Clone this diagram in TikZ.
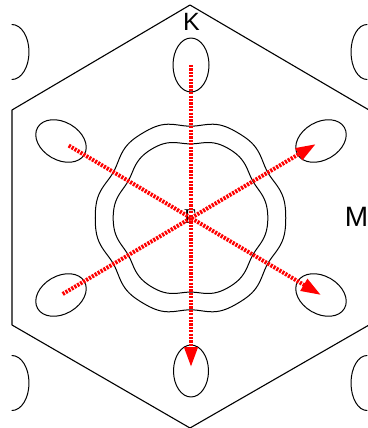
\documentclass[tikz,border=0pt]{standalone}
\usepackage{fontspec}
\setmainfont{Liberation Sans}
\newfontfamily\serifG{Liberation Serif}
\usetikzlibrary{arrows.meta}
\tikzset{declare function={
  fsr(\t,\R,\a,\b)=\R+\a*cos(6*\t)+\b*cos(12*\t);
}}
\begin{document}
\begin{tikzpicture}[x=1pt,y=-1pt,line join=round,line cap=round,
  bz/.style={black,line width=1.1pt},
  fs/.style={black,line width=1pt},
  kpath/.style={red,line width=4pt,line cap=butt,dash pattern=on 2.2pt off 1.2pt,
    -{Triangle[length=20pt,width=13pt]}},
  lbl/.style={inner sep=0pt}]
\useasboundingbox (0,0) rectangle (367,428);
% Brillouin zone
\coordinate (vT) at (190,5);
\coordinate (vUR) at (369,110);
\coordinate (vLR) at (369,325);
\coordinate (vB) at (190,428);
\coordinate (vLL) at (12,325);
\coordinate (vUL) at (12,110);
\draw[bz] (vT) -- (vUR) -- (vLR) -- (vB) -- (vLL) -- (vUL) -- cycle;
% pockets
\coordinate (G) at (190.5,218);
\coordinate (pT) at (191,65);
\coordinate (pB) at (191,371);
\coordinate (pUL) at (61,141);
\coordinate (pLL) at (61,295);
\coordinate (pUR) at (321,141);
\coordinate (pLR) at (321,295);
\draw[fs] (pT) ellipse [x radius=18pt,y radius=27pt];
\draw[fs] (pB) ellipse [x radius=17.5pt,y radius=26pt];
\draw[fs,rotate around={150:(pUL)}] (pUL) ellipse [x radius=27pt,y radius=19pt];
\draw[fs,rotate around={30:(pLL)}] (pLL) ellipse [x radius=27pt,y radius=19pt];
\draw[fs,rotate around={30:(pUR)}] (pUR) ellipse [x radius=27pt,y radius=19pt];
\draw[fs,rotate around={150:(pLR)}] (pLR) ellipse [x radius=27pt,y radius=19pt];
% partial pockets of neighbouring zones
\draw[fs] (12,79.5) arc [start angle=-90,end angle=90,x radius=17pt,y radius=27.5pt];
\draw[fs] (12,410.5) arc [start angle=-90,end angle=90,x radius=17pt,y radius=27.5pt];
\draw[fs] (367,24.5) arc [start angle=90,end angle=270,x radius=16pt,y radius=27.5pt];
\draw[fs] (367,355.5) arc [start angle=90,end angle=270,x radius=16pt,y radius=27.5pt];
% central contours
\draw[fs] plot[domain=0:358,samples=180,smooth cycle] ({190.5+0.97*fsr(\x,96,3.2,-1)*cos(\x)},{218-fsr(\x,96,3.2,-1)*sin(\x)});
\draw[fs] plot[domain=0:358,samples=180,smooth cycle] ({190.5+0.97*fsr(\x,77.5,2.8,-0.6)*cos(\x)},{218-fsr(\x,77.5,2.8,-0.6)*sin(\x)});
% labels
\node[lbl,font=\serifG\fontsize{21}{21}\selectfont] (gamma) at (190,217) {Γ};
\node[lbl,font=\fontsize{25}{25}\selectfont] (K) at (191.5,21.5) {K};
\node[lbl,font=\fontsize{28}{28}\selectfont] (M) at (356.5,216.5) {M};
% paths
\draw[kpath,shorten >=4pt] (pT) -- (pB);
\draw[kpath,shorten <=9pt] (pUL) -- (pLR);
\draw[kpath,shorten <=2pt,shorten >=6pt] (pLL) -- (pUR);
\end{tikzpicture}
\end{document}
